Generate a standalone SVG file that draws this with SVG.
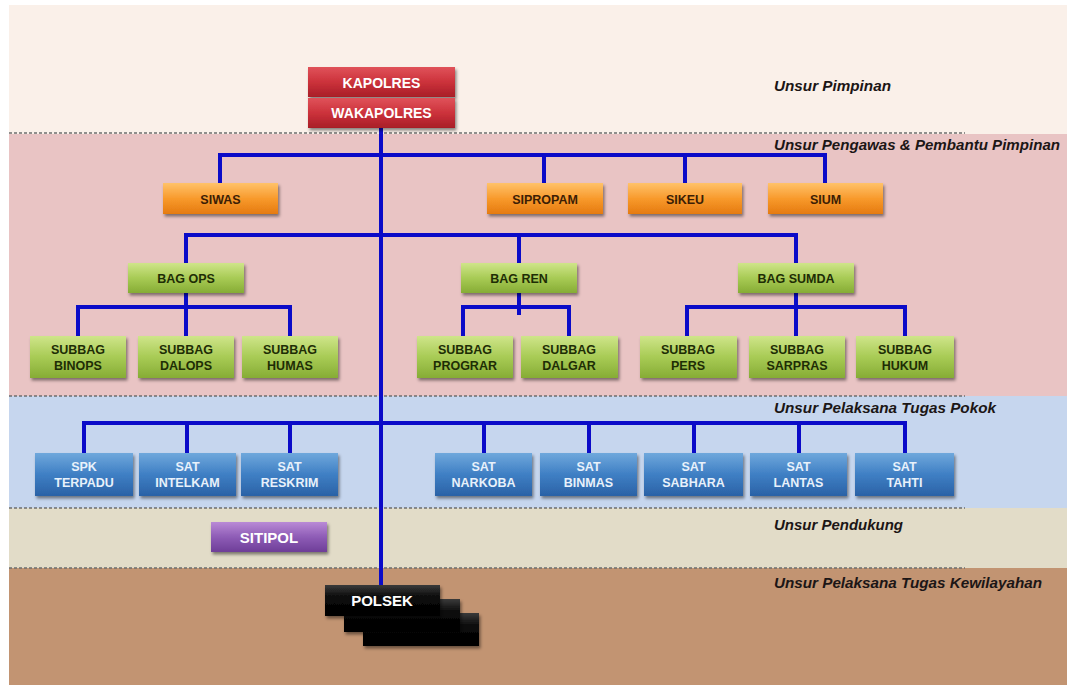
<svg xmlns="http://www.w3.org/2000/svg" width="1067" height="687" viewBox="0 0 1067 687">
<defs>
<linearGradient id="gRed" x1="0" y1="0" x2="0" y2="1"><stop offset="0" stop-color="#E0525A"/><stop offset="0.5" stop-color="#CC323B"/><stop offset="1" stop-color="#A81E27"/></linearGradient>
<linearGradient id="gOrange" x1="0" y1="0" x2="0" y2="1"><stop offset="0" stop-color="#FFC26A"/><stop offset="0.5" stop-color="#F89A2C"/><stop offset="1" stop-color="#E57A10"/></linearGradient>
<linearGradient id="gGreen" x1="0" y1="0" x2="0" y2="1"><stop offset="0" stop-color="#CFE58A"/><stop offset="0.5" stop-color="#A8CB55"/><stop offset="1" stop-color="#86AC35"/></linearGradient>
<linearGradient id="gBlue" x1="0" y1="0" x2="0" y2="1"><stop offset="0" stop-color="#6FA8DC"/><stop offset="0.5" stop-color="#3F7FC4"/><stop offset="1" stop-color="#2A62A6"/></linearGradient>
<linearGradient id="gPurple" x1="0" y1="0" x2="0" y2="1"><stop offset="0" stop-color="#B98AD6"/><stop offset="0.5" stop-color="#8E5CB6"/><stop offset="1" stop-color="#6E3E98"/></linearGradient>
<linearGradient id="gBlack" x1="0" y1="0" x2="0" y2="1"><stop offset="0" stop-color="#3A3A3A"/><stop offset="0.4" stop-color="#0A0A0A"/><stop offset="1" stop-color="#000000"/></linearGradient>
<filter id="sh" x="-10%" y="-20%" width="130%" height="160%"><feDropShadow dx="1.5" dy="2.5" stdDeviation="1.5" flood-color="#000" flood-opacity="0.45"/></filter>
</defs>
<style>
.dash{stroke:#6E6E6E;stroke-width:1.3;stroke-dasharray:3 2;fill:none}
.ln{stroke:#0B0BC8;stroke-width:4;fill:none;stroke-linecap:square}
.box{filter:url(#sh)}
.t{font-family:"Liberation Sans",Arial,sans-serif;font-weight:bold;font-size:12.5px;text-anchor:middle}
.big{font-size:14px}
.big2{font-size:15px}
.tw{fill:#FFFFFF}
.to{fill:#3C1E05}
.tg{fill:#1E2D05}
.tb{fill:#E8F1FB}
.lab{font-family:"Liberation Sans",Arial,sans-serif;font-weight:bold;font-style:italic;font-size:14px;fill:#1C1616}
</style>
<rect x="0" y="0" width="1067" height="687" fill="#FFFFFF"/>
<g id="bands">
<rect x="9" y="5" width="1058" height="129" fill="#FAF0E9"/>
<rect x="9" y="134" width="1058" height="262" fill="#E9C4C4"/>
<rect x="9" y="396" width="1058" height="112" fill="#C6D6EE"/>
<rect x="9" y="508" width="1058" height="60" fill="#E2DCC8"/>
<rect x="9" y="568" width="1058" height="117" fill="#C29472"/>
<line class="dash" x1="9" y1="133" x2="965" y2="133"/>
<line class="dash" x1="9" y1="396" x2="965" y2="396"/>
<line class="dash" x1="9" y1="508" x2="965" y2="508"/>
<line class="dash" x1="9" y1="568" x2="965" y2="568"/>
</g>
<g id="labels">
<text class="lab" x="774" y="91" textLength="117" lengthAdjust="spacingAndGlyphs">Unsur Pimpinan</text>
<text class="lab" x="774" y="150" textLength="286" lengthAdjust="spacingAndGlyphs">Unsur Pengawas &amp; Pembantu Pimpinan</text>
<text class="lab" x="774" y="413" textLength="222" lengthAdjust="spacingAndGlyphs">Unsur Pelaksana Tugas Pokok</text>
<text class="lab" x="774" y="530" textLength="129" lengthAdjust="spacingAndGlyphs">Unsur Pendukung</text>
<text class="lab" x="774" y="588" textLength="268" lengthAdjust="spacingAndGlyphs">Unsur Pelaksana Tugas Kewilayahan</text>
</g>
<g id="connectors">
<line class="ln" x1="381" y1="128" x2="381" y2="585"/>
<polyline class="ln" points="220,183 220,155 825,155 825,183"/>
<line class="ln" x1="544" y1="155" x2="544" y2="183"/>
<line class="ln" x1="685" y1="155" x2="685" y2="183"/>
<polyline class="ln" points="186,263 186,235 796,235 796,263"/>
<line class="ln" x1="519" y1="235" x2="519" y2="263"/>
<polyline class="ln" points="78,336 78,307 290,307 290,336"/>
<line class="ln" x1="186" y1="293" x2="186" y2="336"/>
<polyline class="ln" points="463,336 463,307 569,307 569,336"/>
<line class="ln" x1="519" y1="293" x2="519" y2="313"/>
<polyline class="ln" points="687,336 687,307 905,307 905,336"/>
<line class="ln" x1="796" y1="293" x2="796" y2="336"/>
<polyline class="ln" points="84,453 84,423 905,423 905,453"/>
<line class="ln" x1="187" y1="423" x2="187" y2="453"/>
<line class="ln" x1="290" y1="423" x2="290" y2="453"/>
<line class="ln" x1="484" y1="423" x2="484" y2="453"/>
<line class="ln" x1="589" y1="423" x2="589" y2="453"/>
<line class="ln" x1="694" y1="423" x2="694" y2="453"/>
<line class="ln" x1="799" y1="423" x2="799" y2="453"/>
</g>
<g id="kapolres"><rect class="box" x="308" y="67" width="147" height="30" fill="url(#gRed)"/><text class="t tw big" x="381.5" y="88">KAPOLRES</text></g>
<g id="wakapolres"><rect class="box" x="308" y="98" width="147" height="30" fill="url(#gRed)"/><text class="t tw big" x="381.5" y="118">WAKAPOLRES</text></g>
<g id="siwas"><rect class="box" x="163" y="183" width="115" height="31" fill="url(#gOrange)"/><text class="t to" x="220.5" y="204">SIWAS</text></g>
<g id="sipropam"><rect class="box" x="487" y="183" width="116" height="31" fill="url(#gOrange)"/><text class="t to" x="545" y="204">SIPROPAM</text></g>
<g id="sikeu"><rect class="box" x="628" y="183" width="114" height="31" fill="url(#gOrange)"/><text class="t to" x="685" y="204">SIKEU</text></g>
<g id="sium"><rect class="box" x="768" y="183" width="115" height="31" fill="url(#gOrange)"/><text class="t to" x="825.5" y="204">SIUM</text></g>
<g id="bagops"><rect class="box" x="128" y="263" width="116" height="30" fill="url(#gGreen)"/><text class="t tg" x="186" y="283">BAG OPS</text></g>
<g id="bagren"><rect class="box" x="461" y="263" width="116" height="30" fill="url(#gGreen)"/><text class="t tg" x="519" y="283">BAG REN</text></g>
<g id="bagsumda"><rect class="box" x="738" y="263" width="116" height="30" fill="url(#gGreen)"/><text class="t tg" x="796" y="283">BAG SUMDA</text></g>
<g id="binops"><rect class="box" x="30" y="336" width="96" height="42" fill="url(#gGreen)"/><text class="t tg" x="78" y="354">SUBBAG</text><text class="t tg" x="78" y="370">BINOPS</text></g>
<g id="dalops"><rect class="box" x="138" y="336" width="96" height="42" fill="url(#gGreen)"/><text class="t tg" x="186" y="354">SUBBAG</text><text class="t tg" x="186" y="370">DALOPS</text></g>
<g id="humas"><rect class="box" x="242" y="336" width="96" height="42" fill="url(#gGreen)"/><text class="t tg" x="290" y="354">SUBBAG</text><text class="t tg" x="290" y="370">HUMAS</text></g>
<g id="prograr"><rect class="box" x="417" y="336" width="96" height="42" fill="url(#gGreen)"/><text class="t tg" x="465" y="354">SUBBAG</text><text class="t tg" x="465" y="370">PROGRAR</text></g>
<g id="dalgar"><rect class="box" x="521" y="336" width="97" height="42" fill="url(#gGreen)"/><text class="t tg" x="569" y="354">SUBBAG</text><text class="t tg" x="569" y="370">DALGAR</text></g>
<g id="pers"><rect class="box" x="640" y="336" width="97" height="42" fill="url(#gGreen)"/><text class="t tg" x="688" y="354">SUBBAG</text><text class="t tg" x="688" y="370">PERS</text></g>
<g id="sarpras"><rect class="box" x="749" y="336" width="96" height="42" fill="url(#gGreen)"/><text class="t tg" x="797" y="354">SUBBAG</text><text class="t tg" x="797" y="370">SARPRAS</text></g>
<g id="hukum"><rect class="box" x="856" y="336" width="98" height="42" fill="url(#gGreen)"/><text class="t tg" x="905" y="354">SUBBAG</text><text class="t tg" x="905" y="370">HUKUM</text></g>
<g id="spk"><rect class="box" x="35" y="453" width="98" height="43" fill="url(#gBlue)"/><text class="t tb" x="84" y="471">SPK</text><text class="t tb" x="84" y="487">TERPADU</text></g>
<g id="intelkam"><rect class="box" x="139" y="453" width="97" height="43" fill="url(#gBlue)"/><text class="t tb" x="187.5" y="471">SAT</text><text class="t tb" x="187.5" y="487">INTELKAM</text></g>
<g id="reskrim"><rect class="box" x="241" y="453" width="97" height="43" fill="url(#gBlue)"/><text class="t tb" x="289.5" y="471">SAT</text><text class="t tb" x="289.5" y="487">RESKRIM</text></g>
<g id="narkoba"><rect class="box" x="435" y="453" width="97" height="43" fill="url(#gBlue)"/><text class="t tb" x="483.5" y="471">SAT</text><text class="t tb" x="483.5" y="487">NARKOBA</text></g>
<g id="binmas"><rect class="box" x="540" y="453" width="97" height="43" fill="url(#gBlue)"/><text class="t tb" x="588.5" y="471">SAT</text><text class="t tb" x="588.5" y="487">BINMAS</text></g>
<g id="sabhara"><rect class="box" x="644" y="453" width="99" height="43" fill="url(#gBlue)"/><text class="t tb" x="693.5" y="471">SAT</text><text class="t tb" x="693.5" y="487">SABHARA</text></g>
<g id="lantas"><rect class="box" x="750" y="453" width="97" height="43" fill="url(#gBlue)"/><text class="t tb" x="798.5" y="471">SAT</text><text class="t tb" x="798.5" y="487">LANTAS</text></g>
<g id="tahti"><rect class="box" x="855" y="453" width="99" height="43" fill="url(#gBlue)"/><text class="t tb" x="904.5" y="471">SAT</text><text class="t tb" x="904.5" y="487">TAHTI</text></g>
<g id="sitipol"><rect class="box" x="211" y="522" width="116" height="30" fill="url(#gPurple)"/><text class="t tw big2" x="269" y="543">SITIPOL</text></g>
<g id="polsek">
<rect class="box" x="363" y="613" width="116" height="33" fill="url(#gBlack)"/>
<rect class="box" x="344" y="599" width="116" height="33" fill="url(#gBlack)"/>
<rect class="box" x="325" y="585" width="115" height="31" fill="url(#gBlack)"/>
<text class="t tw big2" x="382" y="606">POLSEK</text>
</g>
</svg>
